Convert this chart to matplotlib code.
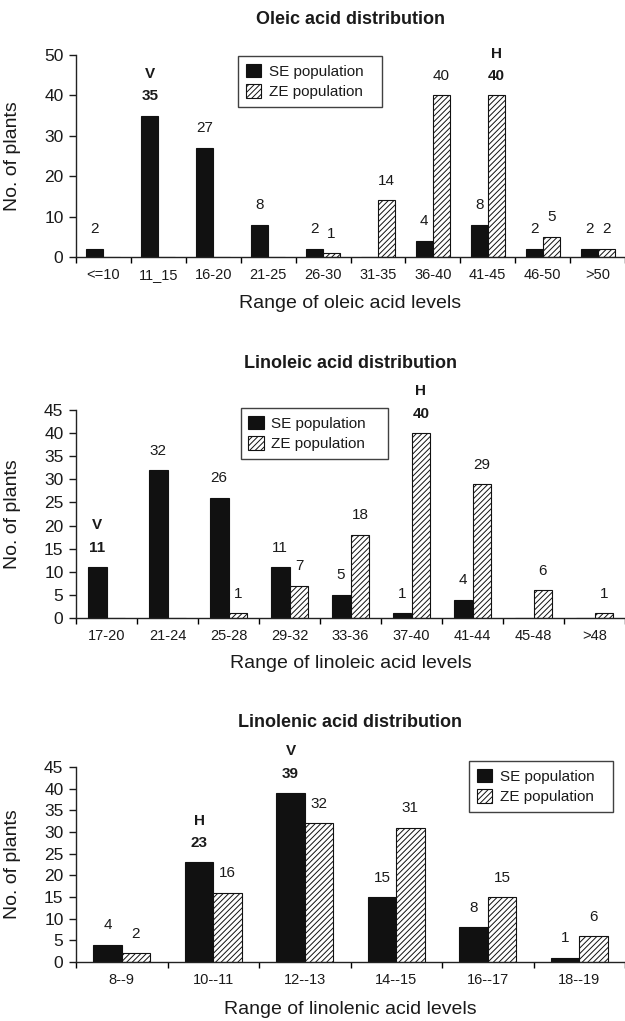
import numpy as np
import matplotlib.pyplot as plt

plt.rcParams['font.family'] = ['Liberation Sans', 'DejaVu Sans']
plt.rcParams['hatch.linewidth'] = 0.7

# oleic
oleic_cats = ["<=10", "11_15", "16-20", "21-25", "26-30", "31-35", "36-40", "41-45", "46-50", ">50"]
oleic_se = [2, 35, 27, 8, 2, 0, 4, 8, 2, 2]
oleic_ze = [0, 0, 0, 0, 1, 14, 40, 40, 5, 2]
oleic_marks = {("se", 1): "V", ("ze", 7): "H"}

# linoleic
lino_cats = ["17-20", "21-24", "25-28", "29-32", "33-36", "37-40", "41-44", "45-48", ">48"]
lino_se = [11, 32, 26, 11, 5, 1, 4, 0, 0]
lino_ze = [0, 0, 1, 7, 18, 40, 29, 6, 1]
lino_marks = {("se", 0): "V", ("ze", 5): "H"}

# linolenic
linolen_cats = ["8--9", "10--11", "12--13", "14--15", "16--17", "18--19"]
linolen_se = [4, 23, 39, 15, 8, 1]
linolen_ze = [2, 16, 32, 31, 15, 6]
linolen_marks = {("se", 1): "H", ("se", 2): "V"}

txt = '#1a1a1a'
W, H = 625, 1021
fig = plt.figure(figsize=(W / 100, H / 100), dpi=100)


def draw(rect, cats, se, ze, marks, ymax, step, title, xlabel, leg_box, title_y, xlabel_y):
    ax = fig.add_axes(rect)
    n = len(cats)
    x = np.arange(n)
    w = 0.31
    ax.bar(x - w / 2, se, w, color='#111111', edgecolor='#111111', linewidth=0.8,
           label='SE population')
    ax.bar(x + w / 2, ze, w, color='white', edgecolor='#111111', linewidth=0.8,
           hatch='//////', label='ZE population')
    for key, vals, xs in (("se", se, x - w / 2), ("ze", ze, x + w / 2)):
        for i, v in enumerate(vals):
            if v == 0:
                continue
            bold = (key, i) in marks
            ax.annotate(str(v), (xs[i], v), xytext=(0, 14), textcoords='offset points',
                        ha='center', va='center', fontsize=11, color=txt,
                        fontweight='bold' if bold else 'normal')
            if bold:
                ax.annotate(marks[(key, i)], (xs[i], v), xytext=(0, 30), textcoords='offset points',
                            ha='center', va='center', fontsize=11, color=txt, fontweight='bold')
    ax.set_xlim(-0.5, n - 0.5)
    ax.set_ylim(0, ymax)
    ax.set_yticks(np.arange(0, ymax + 1, step))
    ax.set_xticks(x)
    ax.set_xticklabels(cats)
    ax.set_xticks(np.arange(-0.5, n, 1.0), minor=True)
    ax.tick_params(axis='x', which='major', length=0, labelsize=10.5, colors=txt, pad=8)
    ax.tick_params(axis='x', which='minor', length=4, width=1, direction='out')
    ax.tick_params(axis='y', length=5, width=1, direction='out', labelsize=12.5, colors=txt, pad=4)
    for s in ('top', 'right'):
        ax.spines[s].set_visible(False)
    for s in ('left', 'bottom'):
        ax.spines[s].set_linewidth(1)
        ax.spines[s].set_color('#222222')
    ax.set_ylabel("No. of plants", fontsize=14, color=txt)
    ax.yaxis.set_label_coords(-0.1, 0.5)
    leg = ax.legend(loc='upper left', bbox_to_anchor=leg_box, mode='expand', fontsize=11,
                    frameon=True, fancybox=False, edgecolor='#111111', handlelength=1.0,
                    handleheight=1.0, handletextpad=0.5, borderaxespad=0, labelspacing=0.35,
                    borderpad=0.5)
    leg.get_frame().set_linewidth(1)
    for t in leg.get_texts():
        t.set_color(txt)
    cx = rect[0] + rect[2] / 2
    fig.text(cx, title_y, title, ha='center', va='center', fontsize=13, fontweight='bold', color=txt)
    fig.text(cx, xlabel_y, xlabel, ha='center', va='center', fontsize=14, color=txt)
    return ax


left = 76 / W
width = 549 / W


def rect(y0, ytop):
    return [left, 1 - y0 / H, width, (y0 - ytop) / H]


draw(rect(257, 55), oleic_cats, oleic_se, oleic_ze, oleic_marks, 50, 10,
     "Oleic acid distribution", "Range of oleic acid levels",
     (0.295, 0.708, 0.262, 0.287), 1 - 20 / H, 1 - 303 / H)
draw(rect(618, 410), lino_cats, lino_se, lino_ze, lino_marks, 45, 5,
     "Linoleic acid distribution", "Range of linoleic acid levels",
     (0.30, 0.74, 0.268, 0.27), 1 - 363 / H, 1 - 664 / H)
draw(rect(962, 767), linolen_cats, linolen_se, linolen_ze, linolen_marks, 45, 5,
     "Linolenic acid distribution", "Range of linolenic acid levels",
     (0.716, 0.74, 0.263, 0.29), 1 - 722 / H, 1 - 1009 / H)

fig.savefig('out.png', dpi=100)
